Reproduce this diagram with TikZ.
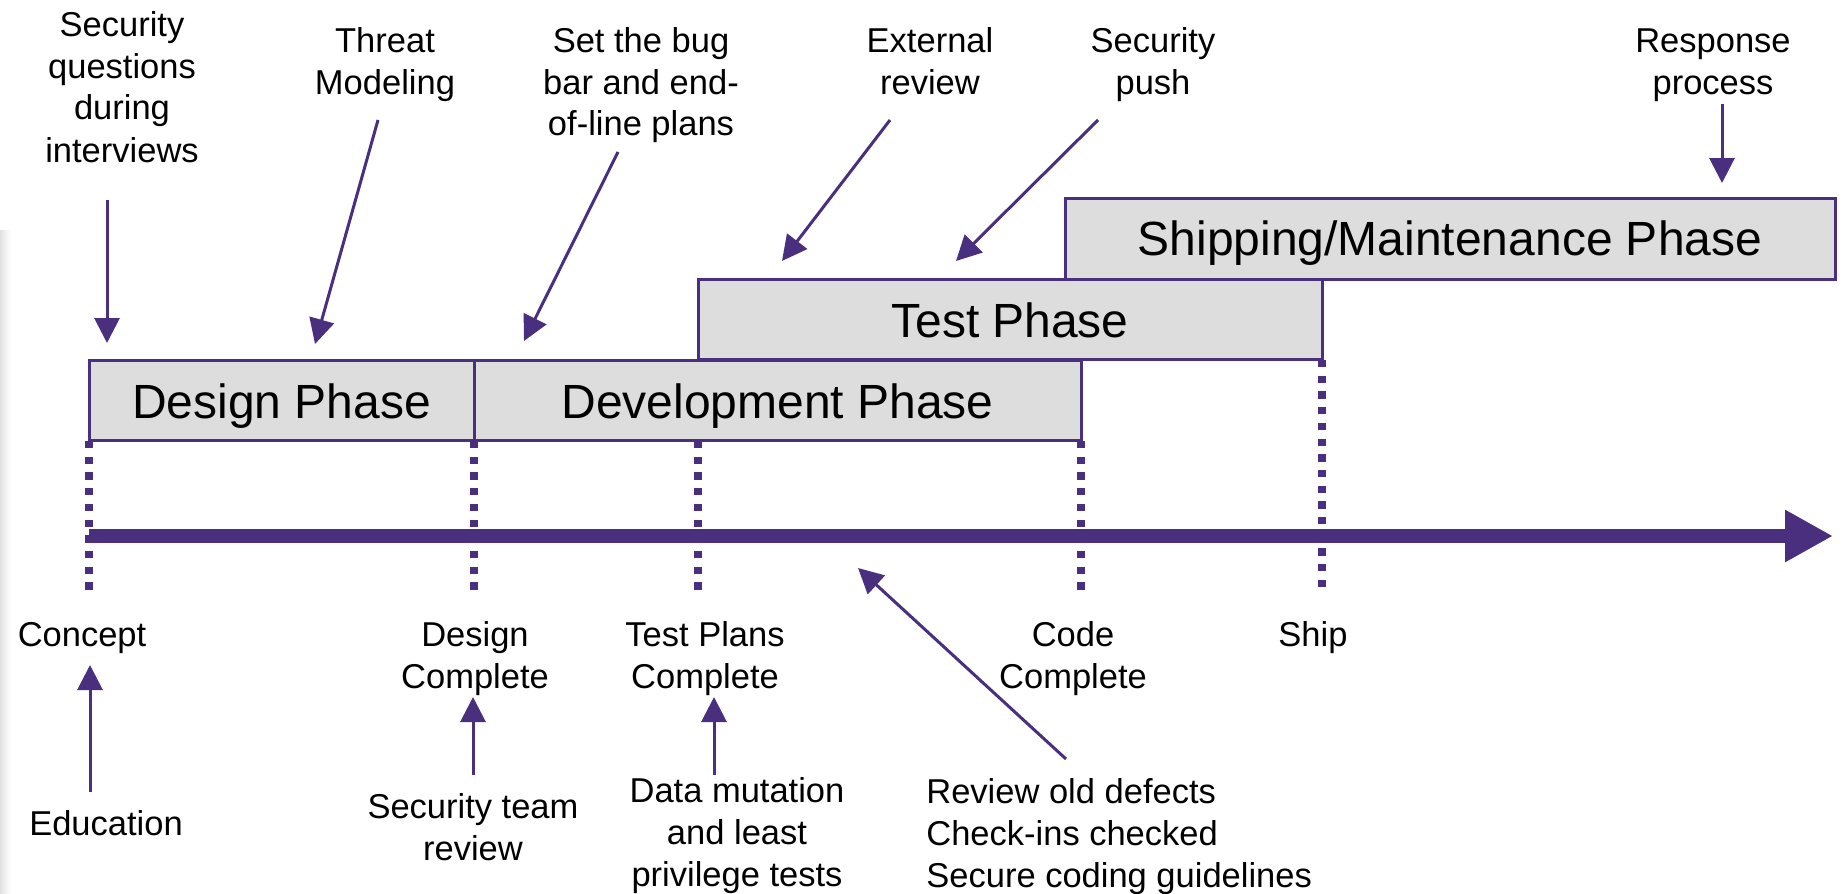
\documentclass[tikz,border=0pt]{standalone}
\usepackage{fontspec}
\setmainfont{Liberation Sans}
\usetikzlibrary{arrows.meta}

\definecolor{sdlpurple}{RGB}{73,47,126}
\definecolor{phasegray}{RGB}{221,221,221}

% multi-line label whose baseline is the baseline of its first line
\newcommand{\lblstack}[2][c]{\begin{tabular}[t]{@{}#1@{}}#2\end{tabular}}

\tikzset{
  phasebox/.style={draw=sdlpurple, fill=phasegray, line width=1.5pt},
  phasetext/.style={font=\fontsize{24}{28}\selectfont, anchor=base, inner sep=0pt},
  note/.style={font=\fontsize{17.25}{21}\selectfont, anchor=base, inner sep=0pt},
  pointer/.style={draw=sdlpurple, line width=1.5pt,
    -{Triangle[length=12.5pt,width=12.5pt]}},
  milestone/.style={draw=sdlpurple, line width=4pt,
    dash pattern=on 3.65pt off 4.2pt},
  timeline/.style={draw=sdlpurple, line width=7pt,
    -{Triangle[length=24pt,width=24.5pt]}},
}

\begin{document}
\begin{tikzpicture}[x=0.5pt, y=-0.5pt]
  \useasboundingbox (0,0) rectangle (1843,894);

  % faint shading along the left edge
  \shade[left color=black!12, right color=white] (0,230) rectangle (10,894);

  % phase bars, back to front
  \draw[phasebox] (1065,198) rectangle (1835,279);
  \draw[phasebox] (698,279) rectangle (1322,359);
  \draw[phasebox] (89,360) rectangle (474,440);
  \draw[phasebox] (474,360) rectangle (1081,440);

  \node[phasetext] (shipphase) at (1450,255) {Shipping/Maintenance Phase};
  \node[phasetext] (testphase) at (1010,337) {Test Phase};
  \node[phasetext] (designphase) at (281.5,418) {Design Phase};
  \node[phasetext] (devphase) at (777.5,418) {Development Phase};

  % milestone markers
  \coordinate (m1a) at (89,441);   \coordinate (m1b) at (89,592);
  \coordinate (m2a) at (474,441);  \coordinate (m2b) at (474,592);
  \coordinate (m3a) at (698,441);  \coordinate (m3b) at (698,592);
  \coordinate (m4a) at (1081,441); \coordinate (m4b) at (1081,592);
  \coordinate (m5a) at (1322,360); \coordinate (m5b) at (1322,592);
  \foreach \m in {m1,m2,m3,m4,m5}
    \draw[milestone] (\m a) -- (\m b);

  % time axis
  \coordinate (tstart) at (89,536);
  \coordinate (tend) at (1833,536);
  \draw[timeline] (tstart) -- (tend);

  % activities above the phases
  \node[note] (questions) at (122,36)
    {\lblstack{Security\\questions\\during\\interviews}};
  \node[note] (threat) at (385,52) {\lblstack{Threat\\Modeling}};
  \node[note] (bugbar) at (641,52) {\lblstack{Set the bug\\bar and end-\\of-line plans}};
  \node[note] (external) at (930,52) {\lblstack{External\\review}};
  \node[note] (push) at (1153,52) {\lblstack{Security\\push}};
  \node[note] (response) at (1713,52) {\lblstack{Response\\process}};

  % milestone names
  \node[note] (concept) at (82,646) {Concept};
  \node[note] (designdone) at (475,646) {\lblstack{Design\\Complete}};
  \node[note] (testplans) at (705,646) {\lblstack{Test Plans\\Complete}};
  \node[note] (codedone) at (1073,646) {\lblstack{Code\\Complete}};
  \node[note] (ship) at (1313,646) {Ship};

  % activities below the axis
  \node[note] (education) at (106,835) {Education};
  \node[note] (secteam) at (473,818) {\lblstack{Security team\\review}};
  \node[note] (datamut) at (737,802) {\lblstack{Data mutation\\and least\\privilege tests}};
  \node[note, anchor=base west] (reviews) at (926,803)
    {\lblstack[l]{Review old defects\\Check-ins checked\\Secure coding guidelines}};

  % pointer ends
  \coordinate (qsA) at (107,200);   \coordinate (qsB) at (107,343);
  \coordinate (thA) at (378,120);   \coordinate (thB) at (315,344);
  \coordinate (bbA) at (618,152);   \coordinate (bbB) at (524,341);
  \coordinate (exA) at (890,120);   \coordinate (exB) at (782,261);
  \coordinate (spA) at (1098,120);  \coordinate (spB) at (956,261);
  \coordinate (rpA) at (1722,104);  \coordinate (rpB) at (1722,183);
  \coordinate (edA) at (90,792);    \coordinate (edB) at (90,665);
  \coordinate (stA) at (473,775);   \coordinate (stB) at (473,697);
  \coordinate (dmA) at (714,775);   \coordinate (dmB) at (714,697);
  \coordinate (rvA) at (1066,759);  \coordinate (rvB) at (858,568);

  \foreach \p in {qs,th,bb,ex,sp,rp,ed,st,dm,rv}
    \draw[pointer] (\p A) -- (\p B);
\end{tikzpicture}
\end{document}
